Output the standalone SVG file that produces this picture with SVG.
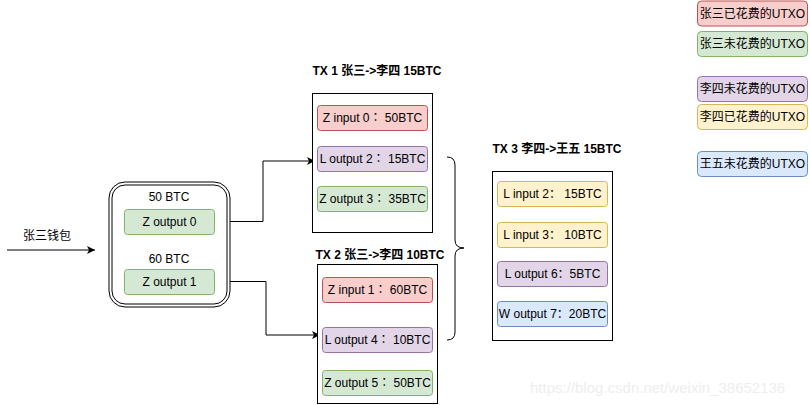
<svg xmlns="http://www.w3.org/2000/svg" width="810" height="405" viewBox="0 0 810 405">
<defs>
<marker id="arr" markerWidth="10" markerHeight="10" refX="8" refY="5" orient="auto" markerUnits="userSpaceOnUse">
<path d="M0,1 L8,5 L0,9 L2,5 Z" fill="#000"/>
</marker>
<style>
text{font-family:"Liberation Sans","Noto Sans CJK SC",sans-serif;font-size:12px;fill:#000;text-anchor:middle;dominant-baseline:central}
.n{font-family:"Liberation Sans","Noto Sans CJK TC",sans-serif}
.t{font-weight:bold}
.box{fill:#fff;stroke:#000;stroke-width:1}
.r{fill:#f8cecc;stroke:#b85450}
.g{fill:#d5e8d4;stroke:#82b366}
.p{fill:#e1d5e7;stroke:#9673a6}
.y{fill:#fff2cc;stroke:#d6b656}
.b{fill:#dae8fc;stroke:#6c8ebf}
.c{fill:none;stroke:#000;stroke-width:1}
.wm{fill:#eeeeee;font-size:15px;text-anchor:start}
</style>
</defs>
<rect width="810" height="405" fill="#fff"/>

<g id="connectors">
<path class="c" d="M7,250 L95,250" marker-end="url(#arr)"/>
<path class="c" d="M214,221.5 L263,221.5 L263,161 L315,161" marker-end="url(#arr)"/>
<path class="c" d="M214,281.5 L266,281.5 L266,335 L320,335" marker-end="url(#arr)"/>
<path class="c" d="M447,157 Q455,157 455,165 L455,240 Q455,248 464,248 Q455,248 455,256 L455,332 Q455,340 447,340"/>
</g>

<g id="wallet-label"><text x="47" y="236">张三钱包</text></g>

<g id="wallet">
<rect x="109" y="182" width="121" height="125" rx="16" fill="#fff" stroke="#000"/>
<rect x="112" y="185" width="115" height="119" rx="13" fill="none" stroke="#000"/>
<text x="169" y="197">50 BTC</text>
<text x="169" y="259">60 BTC</text>
</g>
<g id="z-out-0"><rect class="g" x="124.5" y="209.5" width="90" height="25" rx="3"/><text x="169.5" y="222">Z output 0</text></g>
<g id="z-out-1"><rect class="g" x="124.5" y="269.5" width="90" height="25" rx="3"/><text x="169.5" y="282">Z output 1</text></g>

<g id="tx1">
<text class="t" x="377" y="71">TX 1 张三-&gt;李四 15BTC</text>
<rect class="box" x="312.5" y="93.5" width="120" height="139"/>
</g>
<g id="tx1-in0"><rect class="r" x="317.5" y="105.5" width="110" height="25" rx="3"/><text class="n" x="372.5" y="118">Z input 0： 50BTC</text></g>
<g id="tx1-out2"><rect class="p" x="317.5" y="146.5" width="110" height="25" rx="3"/><text class="n" x="372.5" y="159">L output 2： 15BTC</text></g>
<g id="tx1-out3"><rect class="g" x="317.5" y="186.5" width="110" height="25" rx="3"/><text class="n" x="372.5" y="199">Z output 3： 35BTC</text></g>

<g id="tx2">
<text class="t" x="380" y="255">TX 2 张三-&gt;李四 10BTC</text>
<rect class="box" x="317.5" y="264.5" width="120" height="139"/>
</g>
<g id="tx2-in1"><rect class="r" x="322.5" y="277.5" width="110" height="25" rx="3"/><text class="n" x="377.5" y="290">Z input 1： 60BTC</text></g>
<g id="tx2-out4"><rect class="p" x="322.5" y="327.5" width="110" height="25" rx="3"/><text class="n" x="377.5" y="340">L output 4： 10BTC</text></g>
<g id="tx2-out5"><rect class="g" x="322.5" y="370.5" width="110" height="25" rx="3"/><text class="n" x="377.5" y="383">Z output 5： 50BTC</text></g>

<g id="tx3">
<text class="t" x="557" y="149">TX 3 李四-&gt;王五 15BTC</text>
<rect class="box" x="492.5" y="171.5" width="120" height="169"/>
</g>
<g id="tx3-in2"><rect class="y" x="497.5" y="181.5" width="110" height="25" rx="3"/><text x="552.5" y="194">L input 2： 15BTC</text></g>
<g id="tx3-in3"><rect class="y" x="497.5" y="222.5" width="110" height="25" rx="3"/><text x="552.5" y="235">L input 3： 10BTC</text></g>
<g id="tx3-out6"><rect class="p" x="497.5" y="261.5" width="110" height="25" rx="3"/><text x="552.5" y="274">L output 6：5BTC</text></g>
<g id="tx3-out7"><rect class="b" x="497.5" y="301.5" width="110" height="25" rx="3"/><text x="552.5" y="314">W output 7：20BTC</text></g>

<g id="legend-1"><rect class="r" x="697.5" y="1" width="110" height="25" rx="4"/><text x="752.5" y="14">张三已花费的UTXO</text></g>
<g id="legend-2"><rect class="g" x="697.5" y="31.5" width="110" height="25" rx="4"/><text x="752.5" y="44">张三未花费的UTXO</text></g>
<g id="legend-3"><rect class="p" x="697.5" y="76.5" width="110" height="25" rx="4"/><text x="752.5" y="89">李四未花费的UTXO</text></g>
<g id="legend-4"><rect class="y" x="697.5" y="104.5" width="110" height="25" rx="4"/><text x="752.5" y="117">李四已花费的UTXO</text></g>
<g id="legend-5"><rect class="b" x="697.5" y="151.5" width="110" height="25" rx="4"/><text x="752.5" y="164">王五未花费的UTXO</text></g>

<text class="wm" x="530" y="387">https://blog.csdn.net/weixin_38652136</text>
</svg>
